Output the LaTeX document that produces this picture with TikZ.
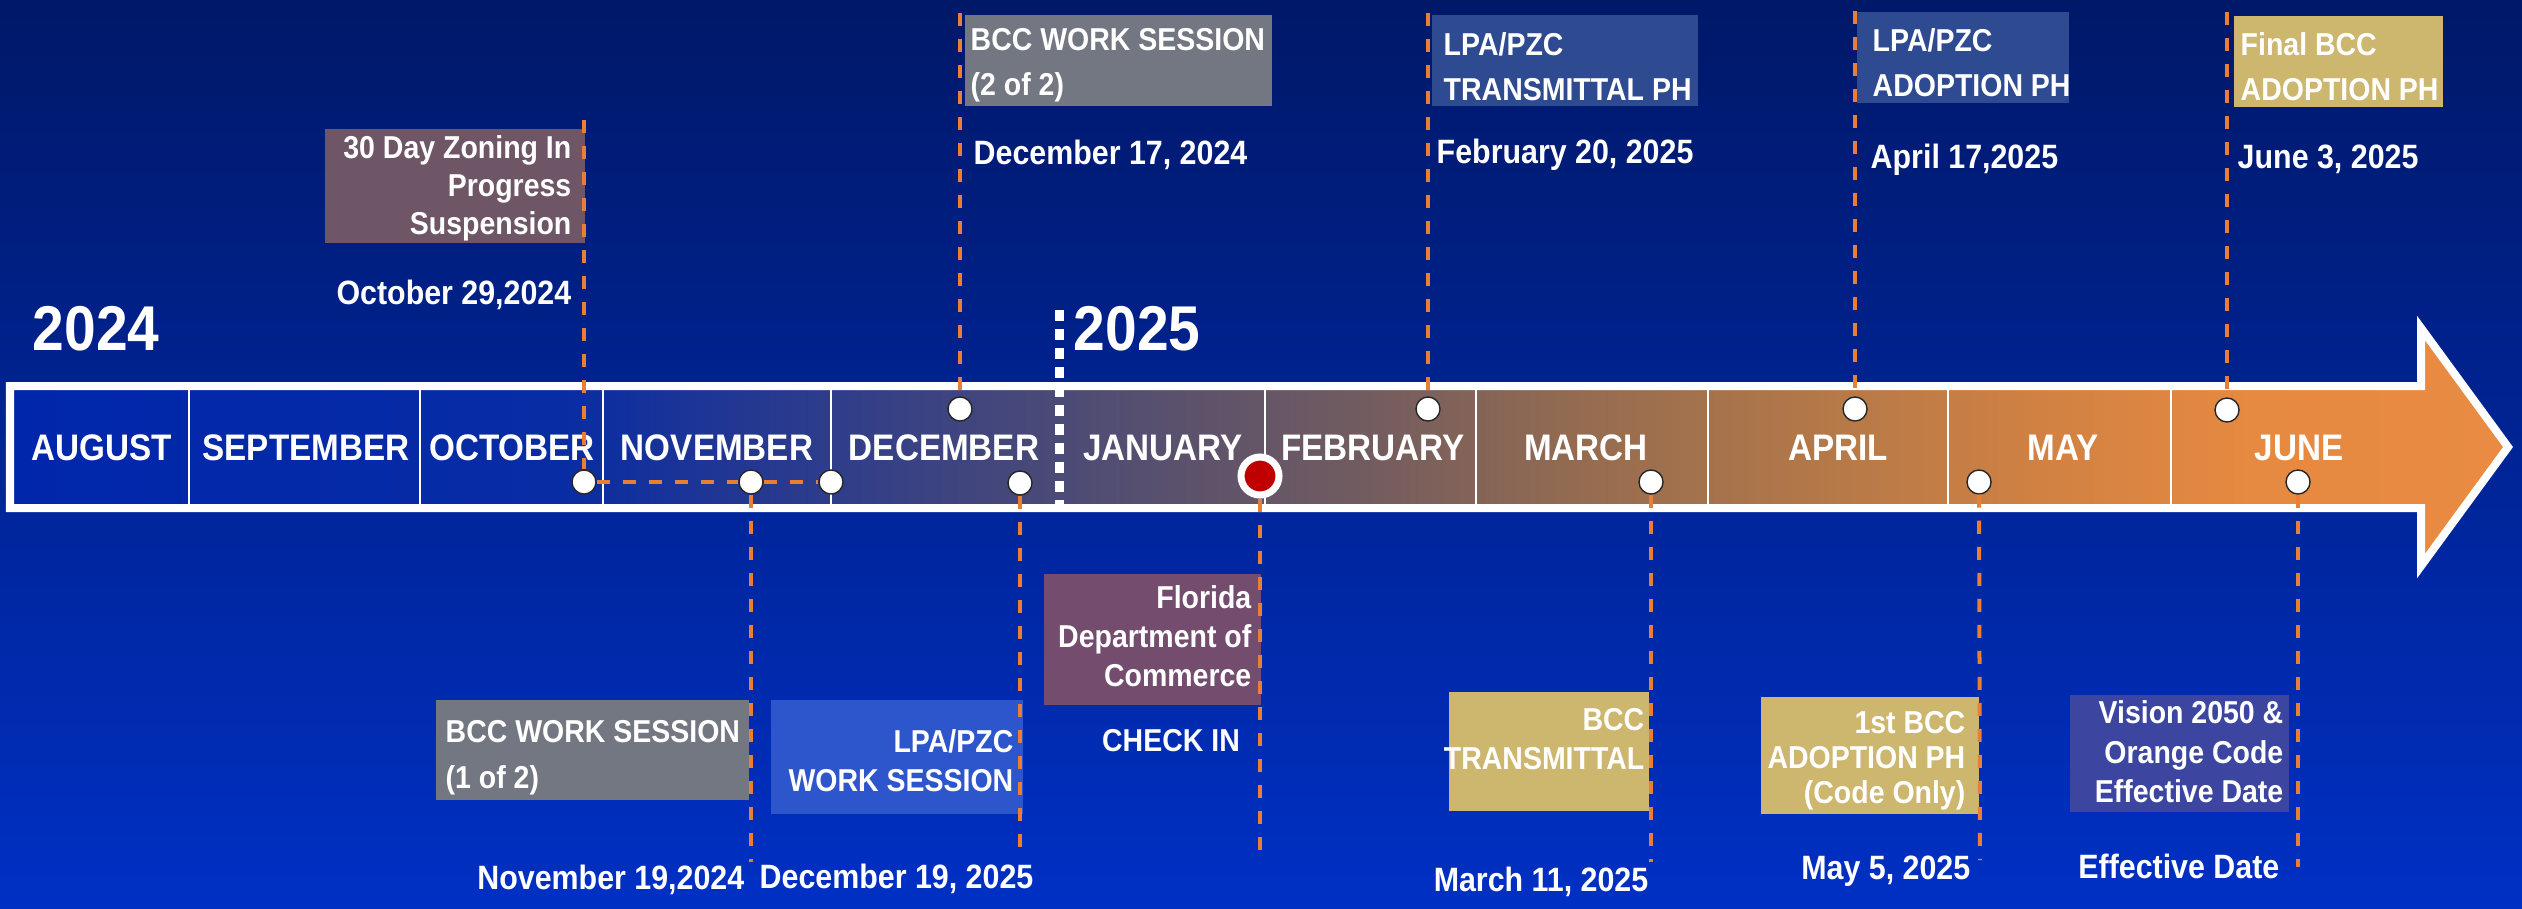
\documentclass[tikz,border=0pt]{standalone}
\usepackage{fontspec}
\setmainfont{Liberation Sans}[FakeStretch=0.9]
\usetikzlibrary{positioning}

% --- colours ---
\definecolor{bgtop}{RGB}{0,24,104}
\definecolor{bgmid}{RGB}{0,40,168}
\definecolor{bgbot}{RGB}{0,48,196}
\definecolor{leadcol}{RGB}{234,126,52}
\definecolor{boxgray}{RGB}{115,119,130}
\definecolor{boxnavy}{RGB}{46,74,145}
\definecolor{boxsky}{RGB}{46,86,204}
\definecolor{boxmauve}{RGB}{110,86,102}
\definecolor{boxplum}{RGB}{115,76,110}
\definecolor{boxgold}{RGB}{205,182,110}
\definecolor{boxindigo}{RGB}{60,70,160}
\definecolor{dotred}{RGB}{192,0,0}
\definecolor{band0}{RGB}{0,38,172}
\definecolor{band1}{RGB}{8,44,164}
\definecolor{band2}{RGB}{32,54,148}
\definecolor{band3}{RGB}{62,68,128}
\definecolor{band4}{RGB}{88,80,110}
\definecolor{band5}{RGB}{115,92,95}
\definecolor{band6}{RGB}{150,108,80}
\definecolor{band7}{RGB}{182,121,72}
\definecolor{band8}{RGB}{211,130,66}
\definecolor{band9}{RGB}{230,137,65}
\definecolor{band10}{RGB}{233,139,66}

% month band, blue on the left to orange at the tip
\pgfdeclarehorizontalshading{bandfill}{100bp}{color(0bp)=(band0); color(25bp)=(band0);
  color(36bp)=(band1); color(39.2bp)=(band2); color(43.8bp)=(band3); color(48bp)=(band4);
  color(52.2bp)=(band5); color(56.6bp)=(band6); color(61.6bp)=(band7); color(66bp)=(band8);
  color(69.8bp)=(band9); color(75bp)=(band10); color(100bp)=(band10)}

\begin{document}
\begin{tikzpicture}[x=0.01cm, y=0.01cm,
    month/.style={text=white, inner sep=0pt, anchor=base, font=\fontsize{10.5}{12}\selectfont\bfseries},
    yearlbl/.style={text=white, inner sep=0pt, anchor=base west, font=\fontsize{18}{20}\selectfont\bfseries},
    evbox/.style={rectangle, anchor=north west, inner sep=0pt},
    boxtext/.style={text=white, inner sep=0pt, font=\fontsize{9}{#1}\selectfont\bfseries},
    boxtext/.default=11,
    datelbl/.style={text=white, inner sep=0pt, font=\fontsize{9.6}{11}\selectfont\bfseries},
    evdot/.style={circle, fill=white, draw=black!85, line width=0.4pt, minimum size=0.24cm, inner sep=0pt},
    reddot/.style={circle, fill=dotred, draw=white, line width=0.07cm, minimum size=0.38cm, inner sep=0pt},
    leadline/.style={draw=leadcol, line width=0.04cm, dash pattern=on 0.13cm off 0.13cm},
    divider/.style={draw=white, line width=0.5pt},
    yearmark/.style={draw=white, line width=0.09cm, dash pattern=on 0.11cm off 0.08cm}
  ]
  \useasboundingbox (0,0) rectangle (2522,-908);
  \shade[top color=bgtop, middle color=bgmid, bottom color=bgbot] (0,0) rectangle (2522,-908);

  % --- the arrow ---
  \shadedraw[shading=bandfill, draw=white, line width=0.08cm, line join=miter]
    (10,-386) -- (2421,-386) -- (2421,-328) -- (2508,-447) -- (2421,-566) -- (2421,-508) -- (10,-508) -- cycle;
  \foreach \x in {189,420,603,831,1265,1476,1708,1948,2171}
    \draw[divider] (\x,-390) -- (\x,-504);

  % --- months ---
  \foreach \m/\x in {AUGUST/102, SEPTEMBER/306, OCTOBER/512, NOVEMBER/717, DECEMBER/944,
      JANUARY/1163, FEBRUARY/1373, MARCH/1586, APRIL/1838, MAY/2063, JUNE/2299}
    \node[month] (m-\m) at (\x,-460) {\m};

  % --- years ---
  \draw[yearmark] (1059,-310) -- (1059,-504);
  \node[yearlbl] (y2024) at (32,-350) {2024};
  \node[yearlbl] (y2025) at (1073,-350) {2025};

  % --- boxes above the arrow ---
  \node[evbox, fill=boxmauve, minimum width=2.60cm, minimum height=1.14cm] (b-oct29) at (324,-128) {};
  \node[evbox, fill=boxgray, minimum width=3.07cm, minimum height=0.91cm] (b-dec17) at (964,-14) {};
  \node[evbox, fill=boxnavy, minimum width=2.66cm, minimum height=0.91cm] (b-feb20) at (1431,-14) {};
  \node[evbox, fill=boxnavy, minimum width=2.12cm, minimum height=0.91cm] (b-apr17) at (1856,-11) {};
  \node[evbox, fill=boxgold, minimum width=2.09cm, minimum height=0.91cm] (b-jun3) at (2233,-15) {};

  \node[boxtext=10.8, anchor=east, align=right] (l-oct29) at (572,-188) {30 Day Zoning In\\Progress\\Suspension};
  \node[boxtext=12.8, anchor=west, align=left] (l-dec17) at (970,-65) {BCC WORK SESSION\\(2 of 2)};
  \node[boxtext=12.8, anchor=west, align=left] (l-feb20) at (1443,-67) {LPA/PZC\\TRANSMITTAL PH};
  \node[boxtext=12.8, anchor=west, align=left] (l-apr17) at (1872,-63) {LPA/PZC\\ADOPTION PH};
  \node[boxtext=12.8, anchor=west, align=left] (l-jun3) at (2240,-67) {Final BCC\\ADOPTION PH};

  % --- boxes below the arrow ---
  \node[evbox, fill=boxgray, minimum width=3.13cm, minimum height=1.00cm] (b-nov19) at (435,-699) {};
  \node[evbox, fill=boxsky, minimum width=2.52cm, minimum height=1.14cm] (b-dec19) at (770,-699) {};
  \node[evbox, fill=boxplum, minimum width=2.17cm, minimum height=1.31cm] (b-check) at (1043,-573) {};
  \node[evbox, fill=boxgold, minimum width=2.00cm, minimum height=1.19cm] (b-mar11) at (1448,-691) {};
  \node[evbox, fill=boxgold, minimum width=2.18cm, minimum height=1.17cm] (b-may5) at (1760,-696) {};
  \node[evbox, fill=boxindigo, minimum width=2.19cm, minimum height=1.17cm] (b-eff) at (2069,-694) {};

  \node[boxtext=13, anchor=west, align=left] (l-nov19) at (445,-758) {BCC WORK SESSION\\(1 of 2)};
  \node[boxtext, anchor=east, align=right] (l-dec19) at (1014,-761) {LPA/PZC\\WORK SESSION};
  \node[boxtext, anchor=east, align=right] (l-check) at (1252,-636) {Florida\\Department of\\Commerce};
  \node[boxtext, anchor=east, align=right] (l-mar11) at (1645,-739) {BCC\\TRANSMITTAL};
  \node[boxtext=10, anchor=east, align=right] (l-may5) at (1966,-761) {1st BCC\\ADOPTION PH\\(Code Only)};
  \node[boxtext=11.2, anchor=east, align=right] (l-eff) at (2284,-752) {Vision 2050 \&\\Orange Code\\Effective Date};

  % --- dates ---
  \node[datelbl, anchor=base east] (t-oct29) at (572,-304) {October 29,2024};
  \node[datelbl, anchor=base west] (t-dec17) at (973,-164) {December 17, 2024};
  \node[datelbl, anchor=base west] (t-feb20) at (1436,-163) {February 20, 2025};
  \node[datelbl, anchor=base west] (t-apr17) at (1870,-168) {April 17,2025};
  \node[datelbl, anchor=base west] (t-jun3) at (2237,-168) {June 3, 2025};
  \node[datelbl, anchor=base east] (t-nov19) at (745,-889) {November 19,2024};
  \node[datelbl, anchor=base west] (t-dec19) at (759,-888) {December 19, 2025};
  \node[boxtext, anchor=base] (t-check) at (1171,-751) {CHECK IN};
  \node[datelbl, anchor=base east] (t-mar11) at (1649,-891) {March 11, 2025};
  \node[datelbl, anchor=base east] (t-may5) at (1971,-879) {May 5, 2025};
  \node[datelbl, anchor=base east] (t-eff) at (2280,-878) {Effective Date};

  % --- milestones on the arrow ---
  \node[evdot] (d-oct29) at (584,-482) {};
  \node[evdot] (d-nov19) at (751,-482) {};
  \node[evdot] (d-nov28) at (831,-482) {};
  \node[evdot] (d-dec17) at (960,-409) {};
  \node[evdot] (d-dec19) at (1020,-483) {};
  \node[reddot] (d-check) at (1260,-476) {};
  \node[evdot] (d-feb20) at (1428,-409) {};
  \node[evdot] (d-mar11) at (1651,-482) {};
  \node[evdot] (d-apr17) at (1855,-409) {};
  \node[evdot] (d-may5) at (1979,-482) {};
  \node[evdot] (d-jun3) at (2227,-410) {};
  \node[evdot] (d-eff) at (2298,-482) {};

  % free ends of the leader lines
  \coordinate (top-oct29) at (584,-120);
  \coordinate (top-dec17) at (960,-13);
  \coordinate (top-feb20) at (1428,-13);
  \coordinate (top-apr17) at (1855,-11);
  \coordinate (top-jun3) at (2227,-12);
  \coordinate (bot-nov19) at (751,-862);
  \coordinate (bot-dec19) at (1020,-858);
  \coordinate (bot-check) at (1260,-862);
  \coordinate (bot-mar11) at (1651,-862);
  \coordinate (bot-may5) at (1980,-860);
  \coordinate (bot-eff) at (2298,-867);

  \foreach \e in {oct29,dec17,feb20,apr17,jun3}
    \draw[leadline] (top-\e) -- (d-\e);
  \foreach \e in {nov19,dec19,check,mar11,may5,eff}
    \draw[leadline] (d-\e) -- (bot-\e);
  \draw[leadline] (d-oct29) -- (d-nov19) -- (d-nov28);
\end{tikzpicture}
\end{document}
